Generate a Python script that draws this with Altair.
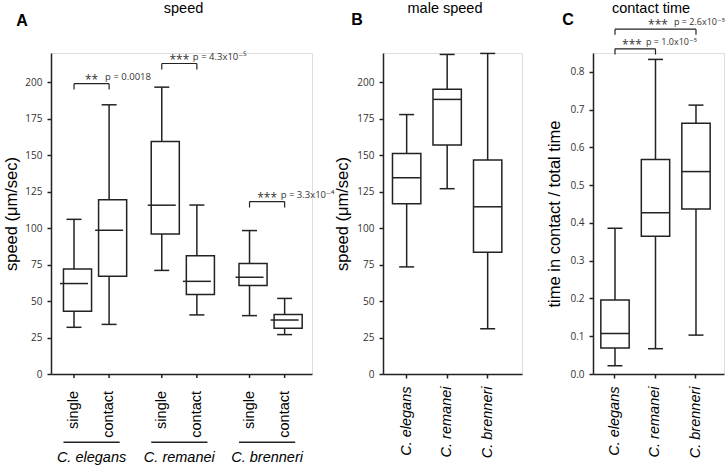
import altair as alt
import pandas as pd

# ---------------- data ----------------
species = ["C. elegans", "C. remanei", "C. brenneri"]
conditions = ["single", "contact"]
panel_letters = ["A", "B", "C"]
panel_titles = ["speed", "male speed", "contact time"]
y_titles = ["speed (μm/sec)", "speed (μm/sec)", "time in contact / total time"]

# Panel A: speed, single vs contact
speed_species = ["C. elegans", "C. elegans", "C. remanei", "C. remanei", "C. brenneri", "C. brenneri"]
speed_condition = ["single", "contact", "single", "contact", "single", "contact"]
speed_low = [32, 34, 71, 40.5, 40, 27]
speed_q1 = [43, 67, 96, 54.5, 60.7, 31.4]
speed_median = [62, 98.5, 115.7, 63.5, 66.3, 37]
speed_q3 = [72, 119.5, 159.3, 81, 75.8, 40.8]
speed_high = [106, 184.5, 196.6, 115.8, 98.3, 51.8]
speed_ticks = [0, 25, 50, 75, 100, 125, 150, 175, 200]

speed_sig_y = [199.0, 212.8, 118.2]
speed_sig_drop = 4.1
speed_sig_stars = ["**", "***", "***"]
speed_sig_p = ["p = 0.0018", "p = 4.3x10⁻⁵", "p = 3.3x10⁻⁴"]

# Panel B: male speed
male_low = [73.4, 127, 31]
male_q1 = [116.7, 157, 83.4]
male_median = [134.5, 188.2, 114.6]
male_q3 = [151.2, 195.2, 146.7]
male_high = [177.8, 219, 219.7]

# Panel C: contact time
ct_low = [0.022, 0.067, 0.103]
ct_q1 = [0.069, 0.365, 0.437]
ct_median = [0.107, 0.427, 0.536]
ct_q3 = [0.196, 0.568, 0.664]
ct_high = [0.386, 0.833, 0.712]
ct_ticks = [0.0, 0.1, 0.2, 0.3, 0.4, 0.5, 0.6, 0.7, 0.8]

ct_sig_from = ["C. elegans", "C. elegans"]
ct_sig_to = ["C. remanei", "C. brenneri"]
ct_sig_y = [0.861, 0.913]
ct_sig_drop = 0.015
ct_sig_stars = ["***", "***"]
ct_sig_p = ["p = 1.0x10⁻⁵", "p = 2.6x10⁻⁵"]

# ---------------- style ----------------
LINE = "#222222"
SW = 1.5
H = 321
WA, WB, WC = 261, 139, 131
GAP = 71
SANS = "Liberation Sans, Arial, sans-serif"
TFONT = "Open Sans, DejaVu Sans, sans-serif"
ct_star_dx = [17, 43]
ct_p_dx = [31, 59]
ct_p_dy = [-3.6, -4.6]


def y_axis(title, values, fmt, title_x):
    return alt.Axis(title=title, values=values, format=fmt, grid=False,
                    domainColor=LINE, domainWidth=SW, tickColor=LINE, tickWidth=SW,
                    tickSize=4, labelFont=TFONT, labelFontSize=10, labelColor="#333333",
                    labelPadding=5, titleFont=SANS, titleFontSize=16.5,
                    titleFontWeight="normal", titleColor="black", titleX=title_x,
                    titleY=H / 2, titleAngle=270, titleAlign="center",
                    titleBaseline="middle")


def box_layers(df, X, ysc, yax, xoff=None, box_w=None, box_px=28):
    def enc(**kw):
        d = dict(x=X)
        if xoff is not None:
            d["xOffset"] = xoff
        d.update(kw)
        return d
    bar_kw = dict(fill="white", stroke=LINE, strokeWidth=SW, opacity=1)
    if box_w is not None:
        bar_kw["width"] = box_w
    tick_kw = dict(orient="horizontal", thickness=SW, color=LINE, opacity=1)
    whisk = alt.Chart(df).mark_rule(color=LINE, strokeWidth=SW).encode(
        **enc(y=alt.Y("low:Q", scale=ysc, axis=yax), y2="high:Q"))
    box = alt.Chart(df).mark_bar(**bar_kw).encode(
        **enc(y=alt.Y("q1:Q", scale=ysc, axis=yax), y2="q3:Q"))
    med = alt.Chart(df).mark_tick(size=box_px, **tick_kw).encode(
        **enc(y=alt.Y("median:Q", scale=ysc, axis=yax)))
    cap_lo = alt.Chart(df).mark_tick(size=15, **tick_kw).encode(
        **enc(y=alt.Y("low:Q", scale=ysc, axis=yax)))
    cap_hi = alt.Chart(df).mark_tick(size=15, **tick_kw).encode(
        **enc(y=alt.Y("high:Q", scale=ysc, axis=yax)))
    return [whisk, box, med, cap_lo, cap_hi]


def header_layers(i, title_x, letter_x, letter_y):
    t = alt.Chart(pd.DataFrame({"t": [panel_titles[i]]})).mark_text(
        font=SANS, fontSize=14.5, color="black", align="center", baseline="alphabetic").encode(
        x=alt.value(title_x), y=alt.value(-40), text="t:N")
    l = alt.Chart(pd.DataFrame({"t": [panel_letters[i]]})).mark_text(
        font=SANS, fontSize=16, fontWeight="bold", color="black", align="center",
        baseline="alphabetic").encode(x=alt.value(letter_x), y=alt.value(letter_y), text="t:N")
    return [t, l]


# ---------------- panel A ----------------
dfA = pd.DataFrame(dict(species=speed_species, condition=speed_condition, low=speed_low,
                        q1=speed_q1, median=speed_median, q3=speed_q3, high=speed_high))
scaleXA = alt.Scale(domain=species, paddingInner=0.2, paddingOuter=0.087, align=0.357)
axXA = alt.Axis(labels=False, ticks=False, grid=False, domainColor=LINE, domainWidth=SW)
XA = alt.X("species:N", scale=scaleXA, axis=axXA, title=None)
XOA = alt.XOffset("condition:N", scale=alt.Scale(domain=conditions, paddingInner=0, paddingOuter=0))
ysA = alt.Scale(domain=[0, 220], nice=False, zero=True)
yaA = y_axis(y_titles[0], speed_ticks, "d", -39.5)

layersA = box_layers(dfA, XA, ysA, yaA, xoff=XOA, box_w=alt.RelativeBandSize(0.8), box_px=28)

# custom tick marks and rotated condition labels
layersA.append(alt.Chart(dfA).mark_rule(color=LINE, strokeWidth=SW).encode(
    x=XA, xOffset=XOA, y=alt.value(H), y2=alt.value(H + 4)))
layersA.append(alt.Chart(dfA).mark_text(angle=270, align="right", baseline="middle", font=SANS,
                                        fontSize=14.5, color="black").encode(
    x=XA, xOffset=XOA, y=alt.value(H + 17), text="condition:N"))
df_sp = pd.DataFrame({"species": species})
layersA.append(alt.Chart(df_sp).mark_rule(color=LINE, strokeWidth=SW).encode(
    x=alt.X("species:N", scale=scaleXA, axis=axXA, title=None, bandPosition=0.1),
    x2=alt.X2("species:N", bandPosition=0.9), y=alt.value(H + 68.3)))
layersA.append(alt.Chart(df_sp).mark_text(font=SANS, fontSize=14.5, fontStyle="italic",
                                          color="black", baseline="alphabetic").encode(
    x=XA, y=alt.value(H + 87.8), text="species:N"))

# significance brackets
dfA_sig = pd.DataFrame(dict(species=species, y=speed_sig_y, stars=speed_sig_stars,
                            p=speed_sig_p, condition=["contact"] * 3))
dfA_drop = pd.DataFrame([dict(species=s, condition=c, top=y, bot=y - speed_sig_drop)
                         for s, y in zip(species, speed_sig_y) for c in conditions])
layersA.append(alt.Chart(dfA_sig).mark_rule(color=LINE, strokeWidth=SW * 0.8).encode(
    x=alt.X("species:N", scale=scaleXA, axis=axXA, title=None, bandPosition=0.25),
    x2=alt.X2("species:N", bandPosition=0.75), y=alt.Y("y:Q", scale=ysA, axis=yaA)))
layersA.append(alt.Chart(dfA_drop).mark_rule(color=LINE, strokeWidth=SW * 0.8).encode(
    x=XA, xOffset=XOA, y=alt.Y("top:Q", scale=ysA, axis=yaA), y2="bot:Q"))
layersA.append(alt.Chart(dfA_sig).mark_text(font=TFONT, fontSize=12, color="#333333",
                                            baseline="alphabetic", align="center").encode(
    x=XA, y=alt.Y("y:Q", scale=ysA, axis=yaA), text="stars:N"))
layersA.append(alt.Chart(dfA_sig).mark_text(font=TFONT, fontSize=9.5, color="#333333",
                                            baseline="alphabetic", align="left", dx=-4, dy=-4).encode(
    x=XA, xOffset=XOA, y=alt.Y("y:Q", scale=ysA, axis=yaA), text="p:N"))
layersA += header_layers(0, 132.5, -29, -27)
# layout anchor (invisible) fixing the top-left corner of the figure
layersA.append(alt.Chart(pd.DataFrame({"a": [0]})).mark_rule(opacity=0).encode(
    x=alt.value(-50), y=alt.value(-52.5), y2=alt.value(-46)))

panelA = alt.layer(*layersA).properties(width=WA, height=H)

# ---------------- panel B ----------------
dfB = pd.DataFrame(dict(species=species, low=male_low, q1=male_q1, median=male_median,
                        q3=male_q3, high=male_high))
axX_sp = dict(labelAngle=270, labelFont=SANS, labelFontStyle="italic", labelFontSize=14.5,
              labelColor="black", labelPadding=8, tickSize=4, tickColor=LINE, tickWidth=SW,
              domainColor=LINE, domainWidth=SW, grid=False)
XB = alt.X("species:N", scale=alt.Scale(domain=species, paddingInner=0.3, paddingOuter=0.366, align=0.32),
           axis=alt.Axis(**axX_sp), title=None)
ysB = alt.Scale(domain=[0, 220], nice=False, zero=True)
yaB = y_axis(y_titles[1], speed_ticks, "d", -41)
layersB = box_layers(dfB, XB, ysB, yaB, box_px=28)
layersB += header_layers(1, 62, -26, -28)
panelB = alt.layer(*layersB).properties(width=WB, height=H)

# ---------------- panel C ----------------
dfC = pd.DataFrame(dict(species=species, low=ct_low, q1=ct_q1, median=ct_median,
                        q3=ct_q3, high=ct_high))
scaleXC = alt.Scale(domain=species, paddingInner=0.3, paddingOuter=0.2675, align=0.361)
XC = alt.X("species:N", scale=scaleXC, axis=alt.Axis(**axX_sp), title=None)
ysC = alt.Scale(domain=[0, 0.85], nice=False, zero=True)
yaC = y_axis(y_titles[2], ct_ticks, ".1f", -38.7)
layersC = box_layers(dfC, XC, ysC, yaC, box_px=28)

dfC_sig = pd.DataFrame(dict(x1=ct_sig_from, x2=ct_sig_to, y=ct_sig_y))
dfC_drop = pd.DataFrame([dict(species=s, top=y, bot=y - ct_sig_drop)
                         for a, b, y in zip(ct_sig_from, ct_sig_to, ct_sig_y) for s in (a, b)])
layersC.append(alt.Chart(dfC_sig).mark_rule(color=LINE, strokeWidth=SW * 0.8).encode(
    x=alt.X("x1:N", scale=scaleXC, axis=alt.Axis(**axX_sp), title=None, bandPosition=0.5),
    x2=alt.X2("x2:N", bandPosition=0.5), y=alt.Y("y:Q", scale=ysC, axis=yaC)))
layersC.append(alt.Chart(dfC_drop).mark_rule(color=LINE, strokeWidth=SW * 0.8).encode(
    x=XC, y=alt.Y("top:Q", scale=ysC, axis=yaC), y2="bot:Q"))
for i in range(len(ct_sig_y)):
    one = pd.DataFrame(dict(species=[ct_sig_from[i]], y=[ct_sig_y[i]],
                            stars=[ct_sig_stars[i]], p=[ct_sig_p[i]]))
    layersC.append(alt.Chart(one).mark_text(font=TFONT, fontSize=12, color="#333333",
                                            baseline="alphabetic", align="center",
                                            dx=ct_star_dx[i]).encode(
        x=XC, y=alt.Y("y:Q", scale=ysC, axis=yaC), text="stars:N"))
    layersC.append(alt.Chart(one).mark_text(font=TFONT, fontSize=9, color="#333333",
                                            baseline="alphabetic", align="left",
                                            dx=ct_p_dx[i], dy=ct_p_dy[i]).encode(
        x=XC, y=alt.Y("y:Q", scale=ysC, axis=yaC), text="p:N"))
layersC += header_layers(2, 58, -25, -28)
panelC = alt.layer(*layersC).properties(width=WC, height=H)

chart = alt.hconcat(panelA, panelB, panelC, spacing=GAP, bounds="flush").properties(
    padding={"left": 0, "top": 0, "right": 0, "bottom": 0}
).configure_view(stroke=None).configure(background="white")

chart.save("out.html", embed_options={"renderer": "svg", "actions": False})
